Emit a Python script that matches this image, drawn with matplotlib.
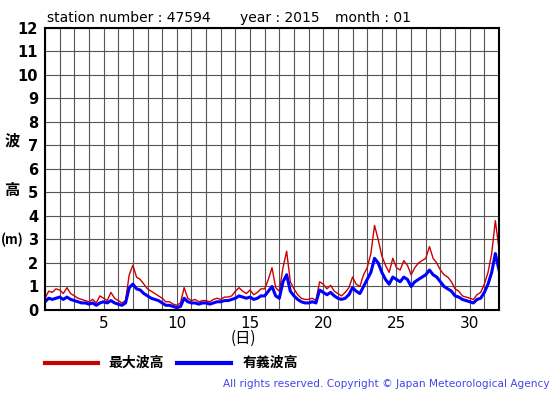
import numpy as np
import matplotlib.pyplot as plt

plt.rcParams['font.family'] = ['DejaVu Sans', 'Noto Sans CJK JP']

# 6-hourly values, day 1.00 .. day 32.00
max_wave = [
    0.5, 0.8, 0.75, 0.9,
    0.85, 0.7, 0.95, 0.7,
    0.6, 0.5, 0.45, 0.4,
    0.35, 0.45, 0.3, 0.6,
    0.5, 0.4, 0.75, 0.5,
    0.4, 0.3, 0.4, 1.5,
    1.9, 1.4, 1.3, 1.1,
    0.9, 0.8, 0.7, 0.6,
    0.5, 0.35, 0.35, 0.25,
    0.2, 0.3, 0.95, 0.5,
    0.4, 0.45, 0.35, 0.4,
    0.4, 0.35, 0.45, 0.5,
    0.45, 0.55, 0.55, 0.6,
    0.8, 0.95, 0.8, 0.7,
    0.85, 0.65, 0.75, 0.9,
    0.9, 1.3, 1.8, 0.95,
    0.8, 1.8, 2.5, 1.2,
    0.9, 0.65, 0.5, 0.45,
    0.45, 0.5, 0.4, 1.2,
    1.1, 0.9, 1.05, 0.8,
    0.7, 0.6, 0.75, 0.95,
    1.4, 1.1, 1.0, 1.5,
    1.8, 2.4, 3.6, 3.0,
    2.3, 1.9, 1.6, 2.2,
    1.8, 1.7, 2.1, 1.9,
    1.5, 1.8, 2.0, 2.1,
    2.2, 2.7, 2.2, 2.0,
    1.7, 1.5, 1.4, 1.2,
    0.9, 0.8, 0.6, 0.55,
    0.5, 0.45, 0.65, 0.75,
    1.1, 1.6, 2.4, 3.8,
    2.6,
]
sig_wave = [
    0.35, 0.5, 0.45, 0.5,
    0.55, 0.45, 0.55, 0.45,
    0.4, 0.35, 0.3, 0.3,
    0.25, 0.3, 0.2, 0.3,
    0.35, 0.3, 0.4, 0.3,
    0.25, 0.2, 0.3, 0.95,
    1.1, 0.9, 0.85, 0.7,
    0.6, 0.5, 0.45, 0.4,
    0.3, 0.2, 0.2, 0.15,
    0.1, 0.15, 0.5, 0.35,
    0.3, 0.3, 0.25, 0.3,
    0.3, 0.25, 0.3, 0.35,
    0.35, 0.4, 0.4, 0.45,
    0.5, 0.6, 0.55, 0.5,
    0.55, 0.45, 0.5, 0.6,
    0.6, 0.8, 1.0, 0.6,
    0.5, 1.2, 1.5, 0.8,
    0.6, 0.45, 0.35, 0.3,
    0.3, 0.35, 0.3, 0.85,
    0.75, 0.65, 0.75, 0.6,
    0.5, 0.45, 0.5, 0.65,
    0.95, 0.8, 0.7, 1.0,
    1.3, 1.6, 2.2, 2.0,
    1.6, 1.3, 1.1, 1.4,
    1.3, 1.2, 1.4, 1.3,
    1.0, 1.2, 1.3, 1.4,
    1.5, 1.7, 1.5, 1.4,
    1.2, 1.0, 0.9, 0.8,
    0.6, 0.55, 0.45, 0.4,
    0.35, 0.3, 0.45, 0.5,
    0.75, 1.1, 1.6, 2.4,
    1.7,
]
days = np.arange(1, 32.01, 0.25)

fig = plt.figure(figsize=(5.55, 3.95), dpi=100)
ax = fig.add_axes([0.0811, 0.2152, 0.818, 0.714])

ax.plot(days, max_wave, color='#cc0000', lw=1.0)
ax.plot(days, sig_wave, color='#0000ff', lw=2.2)

ax.set_xlim(1, 32)
ax.set_ylim(0, 12)
ax.set_xticks(np.arange(1, 33), minor=True)
ax.set_xticks([5, 10, 15, 20, 25, 30])
ax.set_yticks(np.arange(0, 13))
ax.grid(True, which='both', color='#555555', lw=0.8)
ax.tick_params(which='both', length=0)
ax.tick_params(axis='x', labelsize=11, pad=4)
ax.tick_params(axis='y', pad=5)
for lab in ax.get_yticklabels():
    lab.set_fontweight('bold')
    lab.set_fontsize(10.5)
for s in ax.spines.values():
    s.set_linewidth(1.5)

top = 1 - 18 / 395
fig.text(47 / 555, top, 'station number : 47594', fontsize=10, va='center')
fig.text(240 / 555, top, 'year : 2015', fontsize=10, va='center')
fig.text(335 / 555, top, 'month : 01', fontsize=10, va='center')
fig.text(12 / 555, 1 - 140 / 395, '波', fontsize=11, ha='center', va='center',
         family=['Noto Sans CJK JP'], fontweight='bold')
fig.text(12 / 555, 1 - 190 / 395, '高', fontsize=11, ha='center', va='center',
         family=['Noto Sans CJK JP'], fontweight='bold')
fig.text(12 / 555, 1 - 240 / 395, '(m)', fontsize=9.5, ha='center', va='center',
         family=['Noto Sans CJK JP'], fontweight='bold')
fig.text(243 / 555, 1 - 338 / 395, '(日)', fontsize=11, ha='center', va='center',
         family=['Noto Sans CJK JP'])

fig.add_artist(plt.Line2D([45 / 555, 98 / 555], [1 - 363 / 395] * 2,
                          color='#cc0000', lw=3))
fig.text(108 / 555, 1 - 363 / 395, '最大波高', fontsize=10, va='center',
         family=['Noto Sans CJK JP'], fontweight='bold')
fig.add_artist(plt.Line2D([177 / 555, 231 / 555], [1 - 363 / 395] * 2,
                          color='#0000ff', lw=3))
fig.text(243 / 555, 1 - 363 / 395, '有義波高', fontsize=10, va='center',
         family=['Noto Sans CJK JP'], fontweight='bold')
fig.text(550 / 555, 1 - 384 / 395,
         'All rights reserved. Copyright \u00a9 Japan Meteorological Agency',
         fontsize=7.6, color='#4444ee', ha='right', va='center')

fig.savefig('out.png', dpi=100)
